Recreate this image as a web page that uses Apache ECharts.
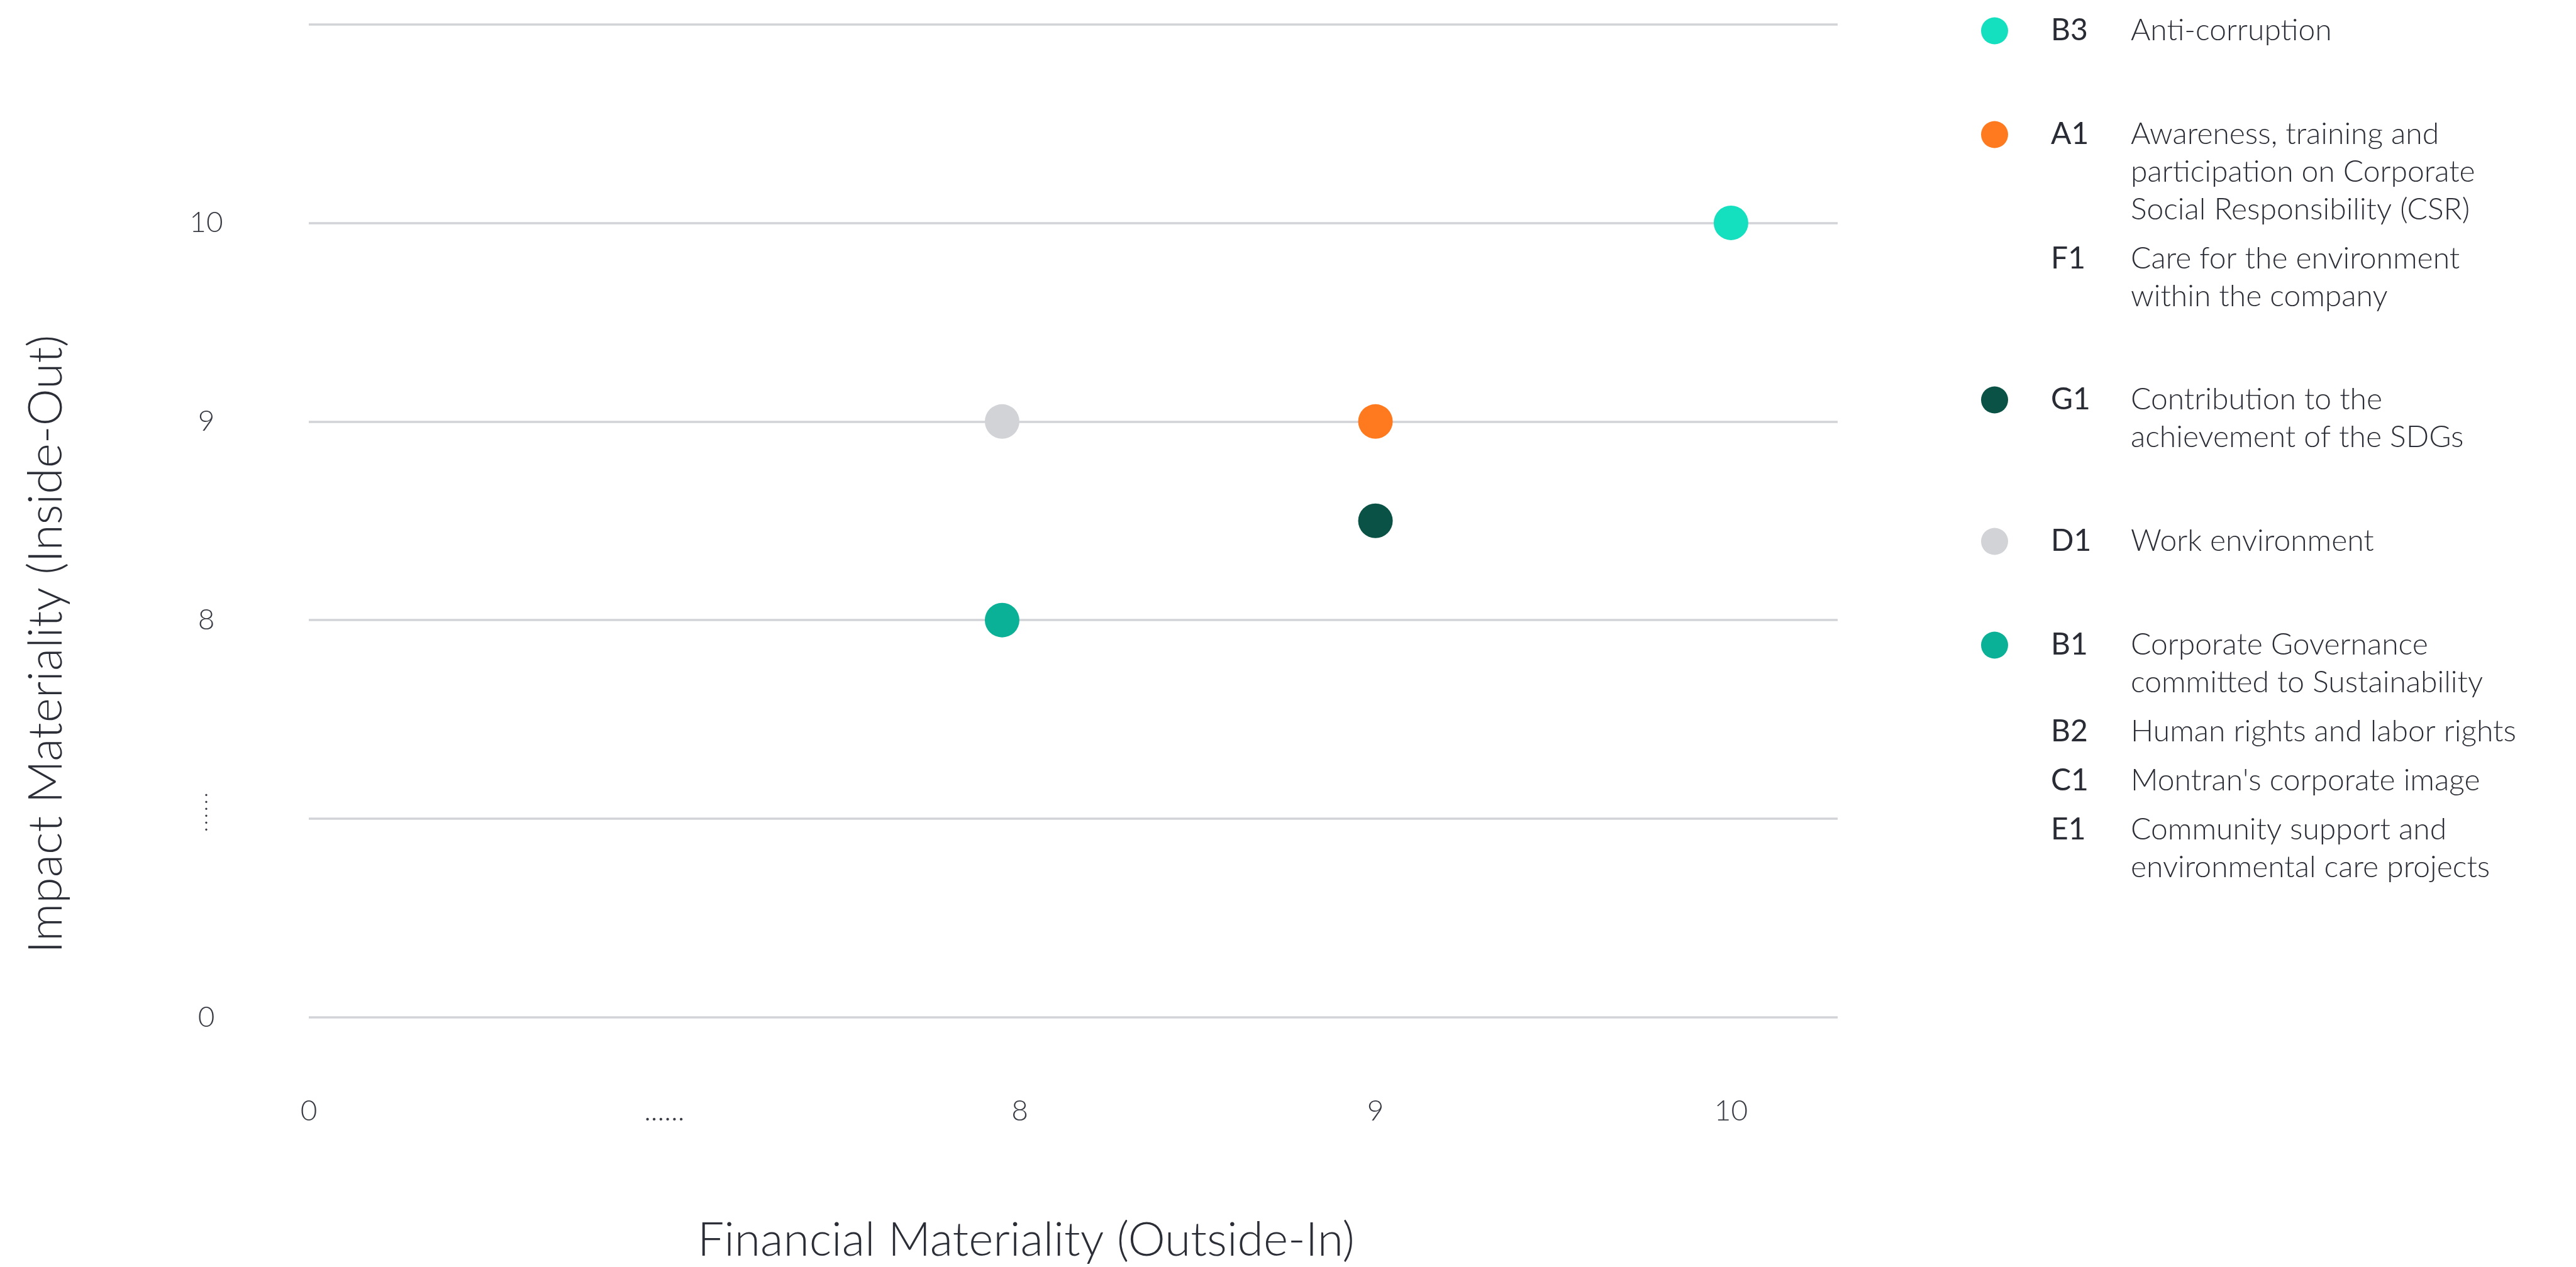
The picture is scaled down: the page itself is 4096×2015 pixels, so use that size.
<!DOCTYPE html>
<html><head><meta charset="utf-8">
<script src="https://cdn.jsdelivr.net/npm/echarts@6/dist/echarts.min.js"></script>
<style>html,body{margin:0;padding:0;background:#fff;}#c{width:4096px;height:2015px;}</style>
</head><body><div id="c"></div>
<script>
// ---- data ----
const xTickLabels = ['0', '......', '8', '9', '10'];
const yTickLabels = ['0', '......', '8', '9', '10', ''];
const codes = ['B3', 'A1', 'G1', 'D1', 'B1'];
const financial = [10, 9, 9, 7.95, 7.95];   // Outside-In
const impact = [10, 9, 8.5, 9, 8];          // Inside-Out
const colors = ['#14E0C0', '#FF7A1E', '#0A5245', '#D2D3D7', '#0BB196'];
const legendEntries = {
  B3: [['B3', ['Anti-corruption']]],
  A1: [['A1', ['Awareness, training and', 'participation on Corporate', 'Social Responsibility (CSR)']],
       ['F1', ['Care for the environment', 'within the company']]],
  G1: [['G1', ['Contribution to the', 'achievement of the SDGs']]],
  D1: [['D1', ['Work environment']]],
  B1: [['B1', ['Corporate Governance', 'committed to Sustainability']],
       ['B2', ['Human rights and labor rights']],
       ['C1', ["Montran's corporate image"]],
       ['E1', ['Community support and', 'environmental care projects']]]
};
// broken axis: slot 0 = 0, slot 1 = "......", slots 2..4 = 8, 9, 10
const toAxis = v => v === 0 ? 0 : v - 6;

// ---- layout ----
const LH = 60, GAP = 18;
const iconCenters = [55, 220, 642, 867, 1032];
const FONT = 'Lato';
const TXT = '#2c2e37';

function legendText(code) {
  const parts = [];
  legendEntries[code].forEach((e, i) => {
    if (i > 0) parts.push('{sp| }');
    e[1].forEach((line, j) => parts.push('{code|' + (j === 0 ? e[0] : ' ') + '}{desc|' + line + '}'));
  });
  return parts.join('\n');
}
function blockHeight(code) {
  let h = 0;
  legendEntries[code].forEach((e, i) => { if (i > 0) h += GAP; h += e[1].length * LH; });
  return h;
}
const rich = {
  code: { width: 127, fontSize: 48, lineHeight: LH, fontFamily: FONT, fontWeight: 400, color: '#2a2c35' },
  desc: { fontSize: 48, lineHeight: LH, fontFamily: FONT, fontWeight: 300, color: TXT },
  sp: { fontSize: 1, lineHeight: GAP }
};
const legends = codes.map((c, i) => {
  const H = blockHeight(c);
  return {
    data: [c], orient: 'vertical', left: 3150, top: iconCenters[i] - LH / 2,
    padding: 0, itemWidth: 43, itemHeight: 43, icon: 'circle', selectedMode: false,
    formatter: legendText,
    textStyle: { padding: [H - LH, 0, 0, 63], rich: rich }
  };
});

const chart = echarts.init(document.getElementById('c'), null, { renderer: 'canvas' });
chart.setOption({
  animation: false,
  backgroundColor: '#ffffff',
  grid: { left: 491, right: 1174, top: 38.5, bottom: 391 },
  legend: legends,
  xAxis: {
    type: 'value', min: 0, max: 4.3, interval: 1,
    axisLine: { show: false }, axisTick: { show: false }, splitLine: { show: false },
    axisLabel: {
      margin: 126, fontSize: 46, fontFamily: FONT, fontWeight: 300, color: '#3a3c45',
      formatter: v => (Number.isInteger(v) && v < xTickLabels.length) ? xTickLabels[v] : ''
    },
    name: 'Financial Materiality (Outside-In)', nameLocation: 'middle', nameGap: 317,
    nameTextStyle: { fontSize: 75, fontFamily: FONT, fontWeight: 300, color: TXT, padding: [0, 150, 0, 0] }
  },
  yAxis: {
    type: 'value', min: 0, max: 5, interval: 1,
    axisLine: { show: false }, axisTick: { show: false },
    splitLine: { show: true, lineStyle: { color: '#d2d3d7', width: 3.5 } },
    axisLabel: {
      margin: 163, align: 'center', fontSize: 46, fontFamily: FONT, fontWeight: 300, color: '#3a3c45',
      formatter: v => v === 1 ? '{v|.\n.\n.\n.\n.\n.}' : (yTickLabels[v] !== undefined ? yTickLabels[v] : ''),
      rich: { v: { fontSize: 36, lineHeight: 11, fontFamily: FONT, color: '#3a3c45', padding: [0, 0, 40, 0] } }
    },
    name: 'Impact Materiality (Inside-Out)', nameLocation: 'middle', nameGap: 380,
    nameTextStyle: { fontSize: 75, fontFamily: FONT, fontWeight: 300, color: TXT, padding: [0, 392, 0, 0] }
  },
  series: codes.map((c, i) => ({
    name: c, type: 'scatter', symbol: 'circle', symbolSize: 55,
    itemStyle: { color: colors[i], opacity: 1 },
    emphasis: { disabled: true },
    data: [[toAxis(financial[i]), toAxis(impact[i])]]
  }))
});
</script></body></html>
